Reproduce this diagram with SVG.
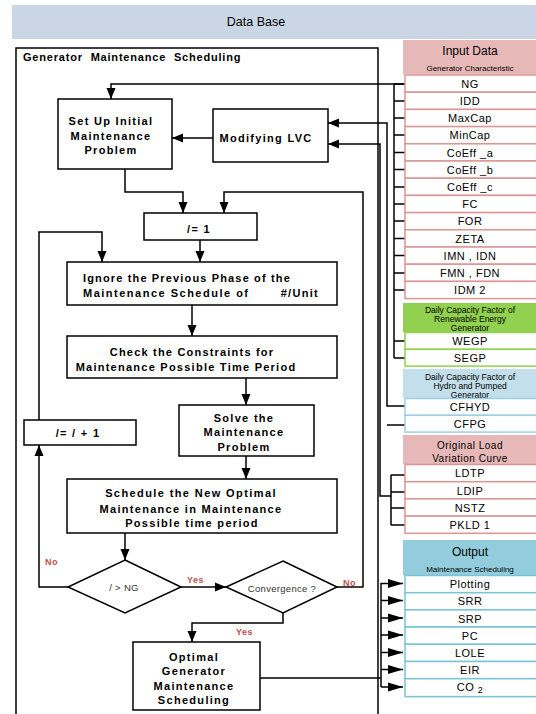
<svg xmlns="http://www.w3.org/2000/svg" width="536" height="714" viewBox="0 0 536 714">
<style>
.bx{fill:#fff;stroke:#000;stroke-width:1.5}
.bt{font-family:"Liberation Sans",Arial,sans-serif;font-weight:bold;font-size:11px;letter-spacing:1.3px;fill:#000;text-anchor:middle;dominant-baseline:central}
.dt{font-family:"Liberation Sans",Arial,sans-serif;font-size:9.5px;letter-spacing:0.3px;fill:#333;text-anchor:middle;dominant-baseline:central}
.lb{font-family:"Liberation Sans",Arial,sans-serif;font-weight:bold;font-size:9px;letter-spacing:0.5px;fill:#c0504d;dominant-baseline:central}
.rt{font-family:"Liberation Sans",Arial,sans-serif;font-size:11px;letter-spacing:0.5px;fill:#000;text-anchor:middle;dominant-baseline:central}
.ht{font-family:"Liberation Sans",Arial,sans-serif;font-size:12px;fill:#000;text-anchor:middle;dominant-baseline:central}
.st{font-family:"Liberation Sans",Arial,sans-serif;font-size:8px;fill:#000;text-anchor:middle;dominant-baseline:central}
.sh{font-family:"Liberation Sans",Arial,sans-serif;font-size:8.5px;fill:#000;text-anchor:middle;dominant-baseline:central}
.pr{fill:#fff;stroke:#d99694;stroke-width:1.5}
.gr{fill:#fff;stroke:#92d050;stroke-width:1.5}
.br{fill:#fff;stroke:#9dd0e6;stroke-width:1.5}
.or{fill:#fff;stroke:#78c3d8;stroke-width:1.5}
.ln{fill:none;stroke:#000;stroke-width:1.5}
.ar{fill:none;stroke:#000;stroke-width:1.5;marker-end:url(#ah)}
.ao{fill:none;stroke:#000;stroke-width:1.5;marker-end:url(#ab)}
</style>
<defs>
<marker id="ah" markerUnits="userSpaceOnUse" markerWidth="11" markerHeight="10" refX="11" refY="5" orient="auto"><path d="M0,0.5 L11,5 L0,9.5 z" fill="#000"/></marker>
<marker id="ab" markerUnits="userSpaceOnUse" markerWidth="15" markerHeight="10" refX="15" refY="5" orient="auto"><path d="M0,0.5 L15,5 L0,9.5 z" fill="#000"/></marker>
</defs>
<rect width="536" height="714" fill="#fff"/>

<g id="database">
<rect x="12" y="5" width="524" height="34" fill="#cad6e5"/>
<text x="256" y="22" class="ht" style="font-size:12.5px">Data Base</text>
</g>

<g id="gms-frame">
<rect x="16" y="48" width="362" height="690" fill="none" stroke="#000" stroke-width="1.5"/>
<text x="23" y="57" style="font-family:'Liberation Sans',Arial,sans-serif;font-weight:bold;font-size:11px;letter-spacing:0.8px;word-spacing:4px;dominant-baseline:central">Generator Maintenance Scheduling</text>
</g>

<g id="connectors">
<path class="ar" d="M405,84 H111 V99"/>
<path class="ln" d="M394,84 V358"/>
<path class="ln" d="M394,84 H405 M394,101 H405 M394,118 H405 M394,135 H405 M394,152.5 H405 M394,169.5 H405 M394,187 H405 M394,204 H405 M394,221 H405 M394,238.5 H405 M394,255.5 H405 M394,273 H405 M394,290 H405 M394,341 H405 M394,358 H405"/>
<path class="ar" d="M405,406 H387 V123 H328"/>
<path class="ln" d="M387,425 H405"/>
<path class="ln" d="M391,475 V525 M391,475 H405 M391,492 H405 M391,508 H405 M391,525 H405"/>
<path class="ar" d="M391,496 H380 V144 H328"/>
<path class="ar" d="M213,138 H172"/>
<path class="ar" d="M125,169 V192 H183 V213"/>
<path class="ar" d="M337,587 H363 V192 H224 V213"/>
<path class="ar" d="M200,240 V262"/>
<path class="ar" d="M39,420 V232 H102 V262"/>
<path class="ar" d="M192,305 V336"/>
<path class="ar" d="M246,378 V405"/>
<path class="ar" d="M246,456 V479"/>
<path class="ar" d="M125,533 V560"/>
<path class="ar" d="M68,587 H39 V445"/>
<path class="ar" d="M181,587 H226"/>
<path class="ar" d="M283,613 V623 H192 V642"/>
<path class="ln" d="M260,678 H381 M381,583 V687"/>
<path class="ao" d="M381,583.5 H403"/>
<path class="ao" d="M381,600.5 H403"/>
<path class="ao" d="M381,618 H403"/>
<path class="ao" d="M381,635 H403"/>
<path class="ao" d="M381,652.5 H403"/>
<path class="ao" d="M381,669.5 H403"/>
<path class="ao" d="M381,687 H403"/>
<text x="45" y="562" class="lb">No</text>
<text x="187" y="580" class="lb">Yes</text>
<text x="343" y="583" class="lb">No</text>
<text x="236" y="632" class="lb">Yes</text>
</g>

<g id="setup">
<rect x="58" y="99" width="114" height="70" class="bx"/>
<text x="111" y="121" class="bt">Set Up Initial</text>
<text x="111" y="136" class="bt">Maintenance</text>
<text x="111" y="150" class="bt">Problem</text>
</g>

<g id="modlvc">
<rect x="213" y="109" width="115" height="53" class="bx"/>
<text x="266" y="138" class="bt">Modifying LVC</text>
</g>

<g id="init-i">
<rect x="144" y="213" width="113" height="27" class="bx"/>
<text x="199" y="229" class="bt">/= 1</text>
</g>

<g id="incr-i">
<rect x="24" y="420" width="112" height="25" class="bx"/>
<text x="78" y="433" class="bt">/= / + 1</text>
</g>

<g id="ignore">
<rect x="67" y="262" width="270" height="43" class="bx"/>
<text x="83" y="278" class="bt" style="text-anchor:start;letter-spacing:1.15px">Ignore the Previous Phase of the</text>
<text x="83" y="293" class="bt" style="text-anchor:start;letter-spacing:1.5px">Maintenance Schedule of</text>
<text x="319" y="293" class="bt" style="text-anchor:end">#/Unit</text>
</g>

<g id="check">
<rect x="67" y="336" width="270" height="42" class="bx"/>
<text x="192" y="352" class="bt" style="letter-spacing:1.2px">Check the Constraints for</text>
<text x="186" y="367" class="bt" style="letter-spacing:1.25px">Maintenance Possible Time Period</text>
</g>

<g id="solve">
<rect x="179" y="405" width="135" height="51" class="bx"/>
<text x="244" y="418" class="bt">Solve the</text>
<text x="244" y="432" class="bt">Maintenance</text>
<text x="244" y="447" class="bt">Problem</text>
</g>

<g id="schedule">
<rect x="67" y="479" width="270" height="54" class="bx"/>
<text x="191" y="493" class="bt" style="letter-spacing:1.4px">Schedule the New Optimal</text>
<text x="191" y="509" class="bt">Maintenance in Maintenance</text>
<text x="192" y="523" class="bt">Possible time period</text>
</g>

<g id="dec-ng">
<polygon points="125,560 181,587 125,613 68,587" class="bx"/>
<text x="124" y="587" class="dt">/ &gt; NG</text>
</g>

<g id="dec-conv">
<polygon points="283,561 337,587 283,613 226,587" class="bx"/>
<text x="282" y="588" class="dt">Convergence ?</text>
</g>

<g id="optimal">
<rect x="133" y="642" width="127" height="68" class="bx"/>
<text x="194" y="657" class="bt">Optimal</text>
<text x="194" y="671" class="bt">Generator</text>
<text x="194" y="686" class="bt">Maintenance</text>
<text x="194" y="700" class="bt">Scheduling</text>
</g>

<g id="input-data">
<rect x="403" y="40" width="133" height="34.5" fill="#e6b9b8"/>
<text x="470" y="51" class="ht">Input Data</text>
<text x="470" y="68" class="st">Generator Characteristic</text>
<rect x="405" y="75" width="135" height="17.2" class="pr"/>
<rect x="405" y="92.2" width="135" height="17.2" class="pr"/>
<rect x="405" y="109.4" width="135" height="17.2" class="pr"/>
<rect x="405" y="126.6" width="135" height="17.2" class="pr"/>
<rect x="405" y="143.8" width="135" height="17.2" class="pr"/>
<rect x="405" y="161" width="135" height="17.2" class="pr"/>
<rect x="405" y="178.2" width="135" height="17.2" class="pr"/>
<rect x="405" y="195.4" width="135" height="17.2" class="pr"/>
<rect x="405" y="212.6" width="135" height="17.2" class="pr"/>
<rect x="405" y="229.8" width="135" height="17.2" class="pr"/>
<rect x="405" y="247" width="135" height="17.2" class="pr"/>
<rect x="405" y="264.2" width="135" height="17.2" class="pr"/>
<rect x="405" y="281.4" width="135" height="17.2" class="pr"/>
<text x="470" y="84" class="rt">NG</text>
<text x="470" y="101" class="rt">IDD</text>
<text x="470" y="118" class="rt">MaxCap</text>
<text x="470" y="135" class="rt">MinCap</text>
<text x="470" y="152.5" class="rt">CoEff _a</text>
<text x="470" y="169.5" class="rt">CoEff _b</text>
<text x="470" y="187" class="rt">CoEff _c</text>
<text x="470" y="204" class="rt">FC</text>
<text x="470" y="221" class="rt">FOR</text>
<text x="470" y="238.5" class="rt">ZETA</text>
<text x="470" y="255.5" class="rt">IMN , IDN</text>
<text x="470" y="273" class="rt">FMN , FDN</text>
<text x="470" y="290" class="rt">IDM 2</text>
</g>

<g id="renewable">
<rect x="403" y="303" width="133" height="29" fill="#92d050"/>
<text x="470" y="310" class="sh">Daily Capacity Factor of</text>
<text x="470" y="319" class="sh">Renewable Energy</text>
<text x="470" y="328" class="sh">Generator</text>
<rect x="405" y="332.5" width="135" height="16.8" class="gr"/>
<rect x="405" y="349.3" width="135" height="16.8" class="gr"/>
<text x="470" y="341" class="rt">WEGP</text>
<text x="470" y="358" class="rt">SEGP</text>
</g>

<g id="hydro">
<rect x="403" y="369" width="133" height="29" fill="#c3dfeb"/>
<text x="470" y="377" class="sh">Daily Capacity Factor of</text>
<text x="470" y="386" class="sh">Hydro and Pumped</text>
<text x="470" y="394.5" class="sh">Generator</text>
<rect x="405" y="398.5" width="135" height="16.8" class="br"/>
<rect x="405" y="415.3" width="135" height="16.8" class="br"/>
<text x="470" y="407" class="rt">CFHYD</text>
<text x="470" y="424" class="rt">CFPG</text>
</g>

<g id="load-curve">
<rect x="403" y="435" width="133" height="29" fill="#e6b9b8"/>
<text x="470" y="445" class="rt" style="font-size:10px">Original Load</text>
<text x="470" y="458" class="rt" style="font-size:10px">Variation Curve</text>
<rect x="405" y="464.5" width="135" height="17.2" class="pr"/>
<rect x="405" y="481.7" width="135" height="17.2" class="pr"/>
<rect x="405" y="498.9" width="135" height="17.2" class="pr"/>
<rect x="405" y="516.1" width="135" height="17.2" class="pr"/>
<text x="470" y="473" class="rt">LDTP</text>
<text x="470" y="490.5" class="rt">LDIP</text>
<text x="470" y="507.5" class="rt">NSTZ</text>
<text x="470" y="525" class="rt">PKLD  1</text>
</g>

<g id="output">
<rect x="403" y="540" width="133" height="35" fill="#93cddd"/>
<text x="470" y="552" class="ht">Output</text>
<text x="470" y="569" class="st">Maintenance Scheduling</text>
<rect x="405" y="575.5" width="135" height="17.2" class="or"/>
<rect x="405" y="592.7" width="135" height="17.2" class="or"/>
<rect x="405" y="609.9" width="135" height="17.2" class="or"/>
<rect x="405" y="627.1" width="135" height="17.2" class="or"/>
<rect x="405" y="644.3" width="135" height="17.2" class="or"/>
<rect x="405" y="661.5" width="135" height="17.2" class="or"/>
<rect x="405" y="678.7" width="135" height="17.9" class="or"/>
<text x="470" y="584" class="rt">Plotting</text>
<text x="470" y="601" class="rt">SRR</text>
<text x="470" y="618.5" class="rt">SRP</text>
<text x="470" y="635.5" class="rt">PC</text>
<text x="470" y="653" class="rt">LOLE</text>
<text x="470" y="670" class="rt">EIR</text>
<text x="470" y="687" class="rt">CO <tspan dy="3" style="font-size:9px">2</tspan></text>
</g>
</svg>
